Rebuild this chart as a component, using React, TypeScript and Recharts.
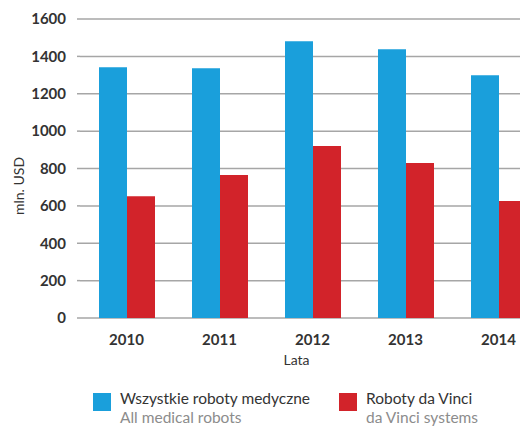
import React from "react";
import {
  BarChart,
  Bar,
  XAxis,
  YAxis,
  CartesianGrid,
  Legend,
} from "recharts";

const years = ["2010", "2011", "2012", "2013", "2014"];
const allMedicalRobots = [1342, 1337, 1481, 1438, 1299];
const daVinciSystems = [652, 765, 920, 829, 626];
const yTicks = [0, 200, 400, 600, 800, 1000, 1200, 1400, 1600];

const data = years.map((year, i) => ({
  year,
  all: allMedicalRobots[i],
  daVinci: daVinciSystems[i],
}));

const FONT = "Lato, 'Open Sans', sans-serif";
const BLUE = "#1a9fdb";
const RED = "#d2232a";
const GRID = "#a6a6a6";

const legendItems = [
  { color: BLUE, pl: "Wszystkie roboty medyczne", en: "All medical robots", x: 93 },
  { color: RED, pl: "Roboty da Vinci", en: "da Vinci systems", x: 339 },
];

// height 0 so recharts doesn't shrink the plot area for the legend
const ChartLegend = () => (
  <div style={{ position: "relative", width: 520, height: 0, fontFamily: FONT }}>
    {legendItems.map((item) => (
      <div key={item.pl} style={{ position: "absolute", left: item.x, top: 0 }}>
        <div
          style={{
            position: "absolute",
            left: 0,
            top: 6,
            width: 18,
            height: 18,
            background: item.color,
          }}
        />
        <div
          style={{
            position: "absolute",
            left: 27,
            top: 2,
            whiteSpace: "nowrap",
            fontSize: 15.5,
            lineHeight: "19px",
            color: "#333",
          }}
        >
          {item.pl}
        </div>
        <div
          style={{
            position: "absolute",
            left: 27,
            top: 21,
            whiteSpace: "nowrap",
            fontSize: 15.5,
            lineHeight: "19px",
            color: "#8c8c8c",
          }}
        >
          {item.en}
        </div>
      </div>
    ))}
  </div>
);

export default function App() {
  return (
    <div
      style={{
        position: "absolute",
        left: 0,
        top: 0,
        width: 520,
        height: 428,
        overflow: "hidden",
        background: "#fff",
      }}
    >
      <BarChart
        width={562}
        height={428}
        data={data}
        margin={{ top: 19, right: 17, left: 0, bottom: 80 }}
        barGap={0}
        barSize={28}
      >
        <CartesianGrid vertical={false} stroke={GRID} strokeWidth={1.5} />
        <XAxis
          dataKey="year"
          height={30}
          axisLine={false}
          tickLine={false}
          tickMargin={10}
          tick={{ fontFamily: FONT, fontSize: 15, fontWeight: 700, fill: "#333" }}
          label={{
            content: ({ viewBox }: any) => (
              <text
                x={viewBox.x + viewBox.width / 2 - 16}
                y={365}
                textAnchor="middle"
                fontFamily={FONT}
                fontSize={14}
                fill="#333"
              >
                Lata
              </text>
            ),
          }}
        />
        <YAxis
          width={80}
          domain={[0, 1600]}
          ticks={yTicks}
          axisLine={false}
          tickLine={{ stroke: GRID, strokeWidth: 1.5 }}
          tickSize={3}
          tickMargin={11}
          tick={{ fontFamily: FONT, fontSize: 15, fontWeight: 700, fill: "#333" }}
          label={{
            content: () => (
              <text
                x={24}
                y={186}
                transform="rotate(-90 24 186)"
                textAnchor="middle"
                fontFamily={FONT}
                fontSize={14}
                fill="#333"
              >
                mln. USD
              </text>
            ),
          }}
        />
        <Legend
          content={() => <ChartLegend />}
          wrapperStyle={{ position: "absolute", left: 0, top: 387, width: 520, height: 0 }}
        />
        <Bar dataKey="all" name="All medical robots" fill={BLUE} isAnimationActive={false} />
        <Bar dataKey="daVinci" name="da Vinci systems" fill={RED} isAnimationActive={false} />
      </BarChart>
    </div>
  );
}
